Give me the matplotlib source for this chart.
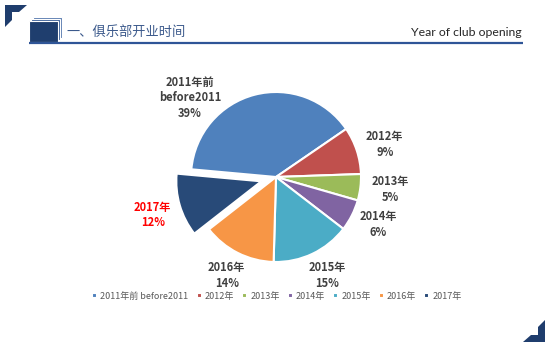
import matplotlib
matplotlib.use("Agg")
import matplotlib.pyplot as plt
from matplotlib.patches import Polygon, Rectangle

plt.rcParams['font.family'] = ['Noto Sans CJK SC', 'DejaVu Sans']

# ---- data ----
categories = ['2011年前 before2011', '2012年', '2013年', '2014年', '2015年', '2016年', '2017年']
label_text = ['2011年前\nbefore2011\n39%', '2012年\n9%', '2013年\n5%', '2014年\n6%',
              '2015年\n15%', '2016年\n14%', '2017年\n12%']
values = [39, 9, 5, 6, 15, 14, 12]
colors = ['#4F81BD', '#C0504D', '#9BBB59', '#8064A2', '#4BACC6', '#F79646', '#284A78']
explode = [0, 0, 0, 0, 0, 0, 0.18]
# label positions in pie units (radius = 1)
label_pos = [(-1.01, 0.93), (1.28, 0.38), (1.34, -0.15), (1.20, -0.56),
             (0.60, -1.16), (-0.58, -1.16), (-1.45, -0.45)]
label_colors = ['#404040'] * 6 + ['#FF0000']

W, H, DPI = 550, 346, 100
fig = plt.figure(figsize=(W / DPI, H / DPI), dpi=DPI)

cx, cy, R = 276, 177, 85
ax = fig.add_axes([0, 0, 1, 1])
wedges, _ = ax.pie(values, colors=colors, explode=explode, startangle=174.8,
                   counterclock=False, radius=1,
                   wedgeprops=dict(edgecolor='white', linewidth=1.5))
ax.set_xlim(-cx / R, (W - cx) / R)
ax.set_ylim(-(H - cy) / R, cy / R)
ax.set_aspect('equal', adjustable='box')
ax.axis('off')

for txt, (x, y), c in zip(label_text, label_pos, label_colors):
    ax.text(x, y, txt, ha='center', va='center', fontsize=8, fontweight='bold',
            color=c, linespacing=1.25)

leg = fig.legend(wedges, categories, loc='center', bbox_to_anchor=(277 / W, 1 - 296 / H),
                 ncol=7, fontsize=6.5, frameon=False, handlelength=0.55, handleheight=0.55,
                 handletextpad=0.35, columnspacing=0.9, labelcolor='#595959')

# ---- header / decorations (pixel overlay) ----
ov = fig.add_axes([0, 0, 1, 1], zorder=-1)
ov.set_xlim(0, W)
ov.set_ylim(H, 0)
ov.axis('off')
navy = '#1F3D6D'
ov.add_patch(Polygon([(5, 5), (27, 5), (19, 12), (12, 12), (12, 20), (5, 27)],
                     closed=True, color=navy, lw=0))
ov.add_patch(Polygon([(545, 342), (523, 342), (531, 335), (538, 335), (538, 327), (545, 320)],
                     closed=True, color=navy, lw=0))
# stacked page icon
ov.add_patch(Rectangle((33, 16.5), 29, 21, facecolor='#5B7DB0', edgecolor='white', lw=0.8))
ov.add_patch(Rectangle((31, 18.5), 29, 21, facecolor='#3F629A', edgecolor='white', lw=0.8))
ov.add_patch(Rectangle((29, 20.5), 29, 21, facecolor='#1F3E6E', edgecolor='white', lw=0.8))
ov.plot([29, 523], [42.5, 42.5], color='#2F5597', lw=1.6, solid_capstyle='butt')
ov.text(66, 32, '一、俱乐部开业时间', fontsize=9.5, color='#3C5A8C', va='center', ha='left')
ov.text(522, 33, 'Year of club opening', fontsize=8.8, color='#262626', va='center',
        ha='right', family=['Lato', 'DejaVu Sans'])

fig.savefig('out.png', dpi=DPI, facecolor='white')
